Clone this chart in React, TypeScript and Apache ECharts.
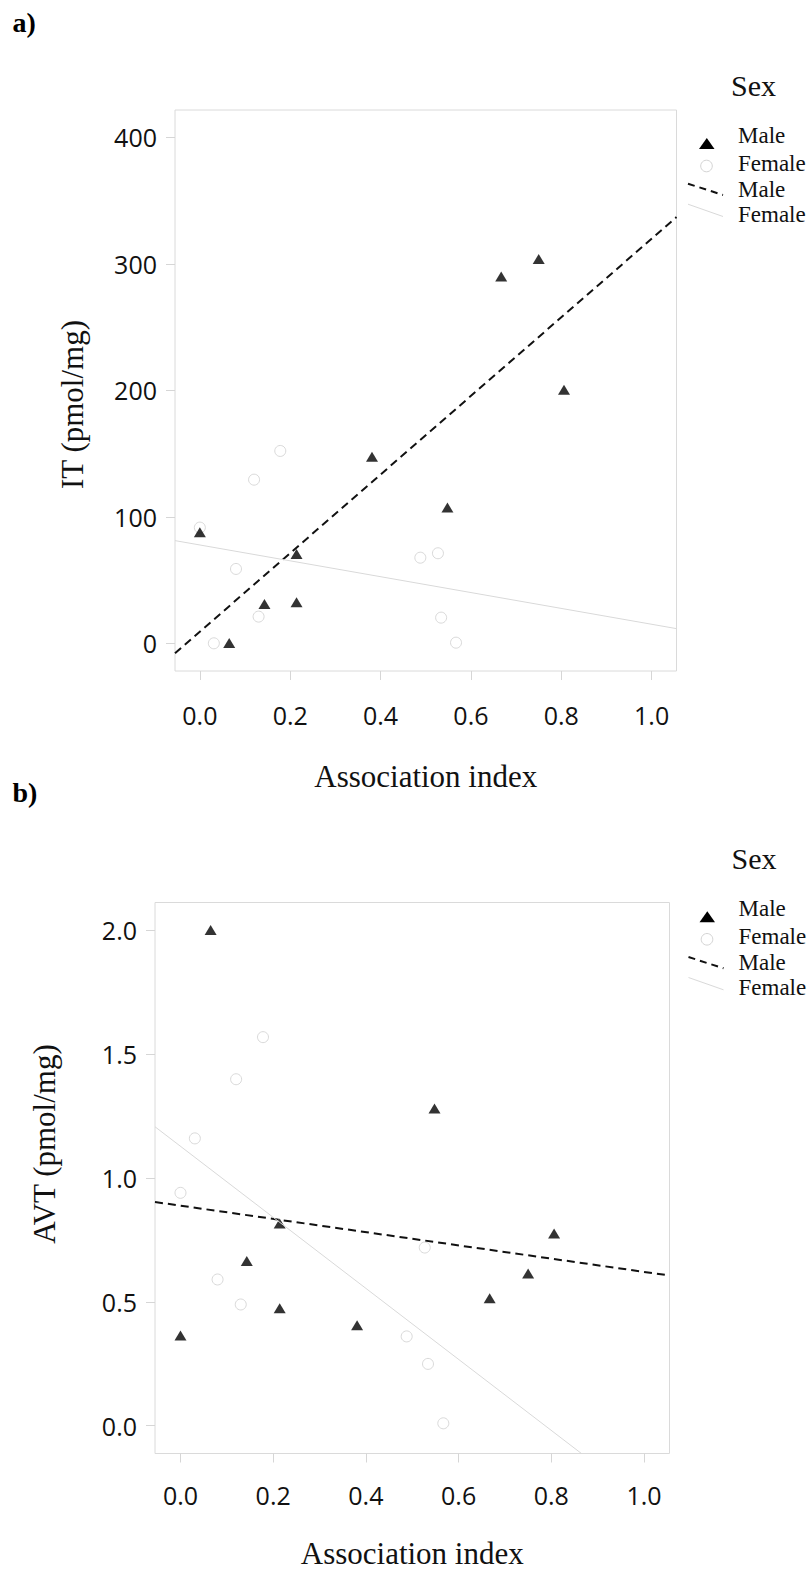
import React, { useEffect, useRef } from "react";
import * as echarts from "echarts";

// ---- data ----
const xTicks = [0, 0.2, 0.4, 0.6, 0.8, 1.0];
const itTicks = [0, 100, 200, 300, 400];
const avtTicks = [0, 0.5, 1.0, 1.5, 2.0];

const assocRange = [-0.055, 1.055];
const itRange = [-21.9, 421.7];
const avtRange = [-0.113, 2.113];

const maleAssoc = [0.0, 0.065, 0.143, 0.214, 0.214, 0.381, 0.548, 0.667, 0.75, 0.806];
const maleIT = [87.8, 0.2, 31.1, 70.6, 32.4, 147.6, 107.3, 290.0, 303.8, 200.4];
const maleAVT = [0.364, 2.002, 0.665, 0.816, 0.474, 0.405, 1.281, 0.514, 0.614, 0.776];

const femaleAssoc = [0.0, 0.031, 0.08, 0.12, 0.13, 0.178, 0.488, 0.527, 0.534, 0.567];
const femaleIT = [91.5, 0.0, 58.8, 129.4, 21.1, 152.1, 67.7, 71.2, 20.3, 0.5];
const femaleAVT = [0.94, 1.16, 0.59, 1.399, 0.489, 1.569, 0.36, 0.719, 0.249, 0.009];

// fitted regression lines (end points)
const fitX = [-0.055, 1.055];
const itMaleFit = [-7.9, 337.0];
const itFemaleFit = [81.2, 11.6];
const avtMaleFit = [0.903, 0.606];
const avtFemaleFitX = [-0.055, 0.865];
const avtFemaleFit = [1.207, -0.113];

const legendLabels = ["Male", "Female", "Male", "Female"];

// ---- styles ----
const SERIF = "'Liberation Serif', 'Times New Roman', serif";
const SANS = "'Open Sans', sans-serif";
const GREY = "#d6d6d6";
const INK = "#111111";

const pairs = (xs: number[], ys: number[]) => xs.map((x, i) => [x, ys[i]]);

function makeXAxis(gridIndex: number, labelMargin: number, nameGap: number) {
  return {
    type: "value",
    gridIndex,
    min: assocRange[0],
    max: assocRange[1],
    axisLine: { show: false, onZero: false },
    axisTick: {
      show: true,
      inside: false,
      length: 9,
      customValues: xTicks,
      lineStyle: { color: GREY, width: 1 },
    },
    axisLabel: {
      customValues: xTicks,
      margin: labelMargin,
      fontFamily: SANS,
      fontSize: 25,
      color: "#111111",
      formatter: (v: number) => v.toFixed(1),
    },
    splitLine: { show: false },
    name: "Association index",
    nameLocation: "middle",
    nameGap,
    nameTextStyle: { fontFamily: SERIF, fontSize: 31, color: INK },
  };
}

function makeYAxis(gridIndex: number, range: number[], ticks: number[], fmt: (v: number) => string) {
  return {
    type: "value",
    gridIndex,
    min: range[0],
    max: range[1],
    axisLine: { show: false, onZero: false },
    axisTick: {
      show: true,
      inside: false,
      length: 9,
      customValues: ticks,
      lineStyle: { color: GREY, width: 1 },
    },
    axisLabel: {
      customValues: ticks,
      margin: 18,
      fontFamily: SANS,
      fontSize: 25,
      color: "#111111",
      formatter: fmt,
    },
    splitLine: { show: false },
  };
}

function panelSeries(axisIndex: number, maleY: number[], femaleY: number[], maleFit: number[][], femaleFit: number[][]) {
  return [
    {
      type: "scatter",
      name: "Male",
      xAxisIndex: axisIndex,
      yAxisIndex: axisIndex,
      symbol: "triangle",
      symbolSize: [12, 10],
      itemStyle: { color: "#000000" },
      data: pairs(maleAssoc, maleY),
      silent: true,
      z: 3,
    },
    {
      type: "scatter",
      name: "Female",
      xAxisIndex: axisIndex,
      yAxisIndex: axisIndex,
      symbol: "circle",
      symbolSize: 11,
      itemStyle: { color: "rgba(255,255,255,0)", borderColor: "#cfcfcf", borderWidth: 1 },
      data: pairs(femaleAssoc, femaleY),
      silent: true,
      z: 2,
    },
    {
      type: "line",
      name: "Male fit",
      xAxisIndex: axisIndex,
      yAxisIndex: axisIndex,
      showSymbol: false,
      symbol: "none",
      lineStyle: { color: "#111111", width: 2, type: [8, 5] },
      data: maleFit,
      silent: true,
      z: 4,
    },
    {
      type: "line",
      name: "Female fit",
      xAxisIndex: axisIndex,
      yAxisIndex: axisIndex,
      showSymbol: false,
      symbol: "none",
      lineStyle: { color: "#d9d9d9", width: 1 },
      data: femaleFit,
      silent: true,
      z: 4,
    },
  ];
}

function legendGraphic(x0: number, y0: number) {
  const txt = (dx: number, dy: number, text: string, size: number) => ({
    type: "text",
    x: x0 + dx,
    y: y0 + dy,
    style: { text, fontFamily: SERIF, fontSize: size, fill: INK, align: "left", verticalAlign: "middle" },
  });
  return [
    txt(0, 0, "Sex", 30),
    {
      type: "polygon",
      shape: {
        points: [
          [x0 - 32, y0 + 64],
          [x0 - 16.5, y0 + 64],
          [x0 - 24.2, y0 + 53],
        ],
      },
      style: { fill: "#000000" },
    },
    txt(7, 50.2, legendLabels[0], 23),
    {
      type: "circle",
      shape: { cx: x0 - 24.5, cy: y0 + 81, r: 5.8 },
      style: { fill: "rgba(255,255,255,0)", stroke: "#d4d4d4", lineWidth: 1 },
    },
    txt(7, 78, legendLabels[1], 23),
    {
      type: "line",
      shape: { x1: x0 - 43, y1: y0 + 98.7, x2: x0 - 8, y2: y0 + 110 },
      style: { stroke: "#111111", lineWidth: 2, lineDash: [7, 5] },
    },
    txt(7, 104.3, legendLabels[2], 23),
    {
      type: "line",
      shape: { x1: x0 - 43, y1: y0 + 119.2, x2: x0 - 8, y2: y0 + 131.5 },
      style: { stroke: "#d9d9d9", lineWidth: 1 },
    },
    txt(7, 129.6, legendLabels[3], 23),
  ];
}

function buildOption() {
  const graphic: any[] = [
    {
      type: "text",
      x: 12.5,
      y: 22,
      style: { text: "a)", fontFamily: SERIF, fontWeight: "bold", fontSize: 28, fill: "#000", align: "left", verticalAlign: "middle" },
    },
    {
      type: "text",
      x: 12.5,
      y: 792.5,
      style: { text: "b)", fontFamily: SERIF, fontWeight: "bold", fontSize: 28, fill: "#000", align: "left", verticalAlign: "middle" },
    },
    {
      type: "text",
      x: 72,
      y: 404.5,
      rotation: Math.PI / 2,
      style: { text: "IT (pmol/mg)", fontFamily: SERIF, fontSize: 31, fill: INK, align: "center", verticalAlign: "middle" },
    },
    {
      type: "text",
      x: 44.7,
      y: 1144,
      rotation: Math.PI / 2,
      style: { text: "AVT (pmol/mg)", fontFamily: SERIF, fontSize: 31, fill: INK, align: "center", verticalAlign: "middle" },
    },
    ...legendGraphic(731, 85),
    ...legendGraphic(731.5, 858.3),
  ];

  return {
    animation: false,
    backgroundColor: "#ffffff",
    grid: [
      { left: 175, top: 110, width: 501.5, height: 561, show: true, borderColor: "#dadada", borderWidth: 1, containLabel: false },
      { left: 155, top: 902.5, width: 514.5, height: 551, show: true, borderColor: "#dadada", borderWidth: 1, containLabel: false },
    ],
    xAxis: [makeXAxis(0, 31, 90), makeXAxis(1, 29, 84)],
    yAxis: [
      makeYAxis(0, itRange, itTicks, (v: number) => String(v)),
      makeYAxis(1, avtRange, avtTicks, (v: number) => v.toFixed(1)),
    ],
    series: [
      ...panelSeries(0, maleIT, femaleIT, pairs(fitX, itMaleFit), pairs(fitX, itFemaleFit)),
      ...panelSeries(1, maleAVT, femaleAVT, pairs(fitX, avtMaleFit), pairs(avtFemaleFitX, avtFemaleFit)),
    ],
    graphic,
  };
}

export default function App() {
  const ref = useRef<HTMLDivElement>(null);
  useEffect(() => {
    if (!ref.current) return;
    const chart = echarts.init(ref.current, null, { renderer: "svg" });
    chart.setOption(buildOption() as any);
    return () => chart.dispose();
  }, []);
  return (
    <div
      ref={ref}
      style={{ position: "absolute", left: 0, top: 0, width: 811, height: 1571, background: "#ffffff" }}
    />
  );
}
